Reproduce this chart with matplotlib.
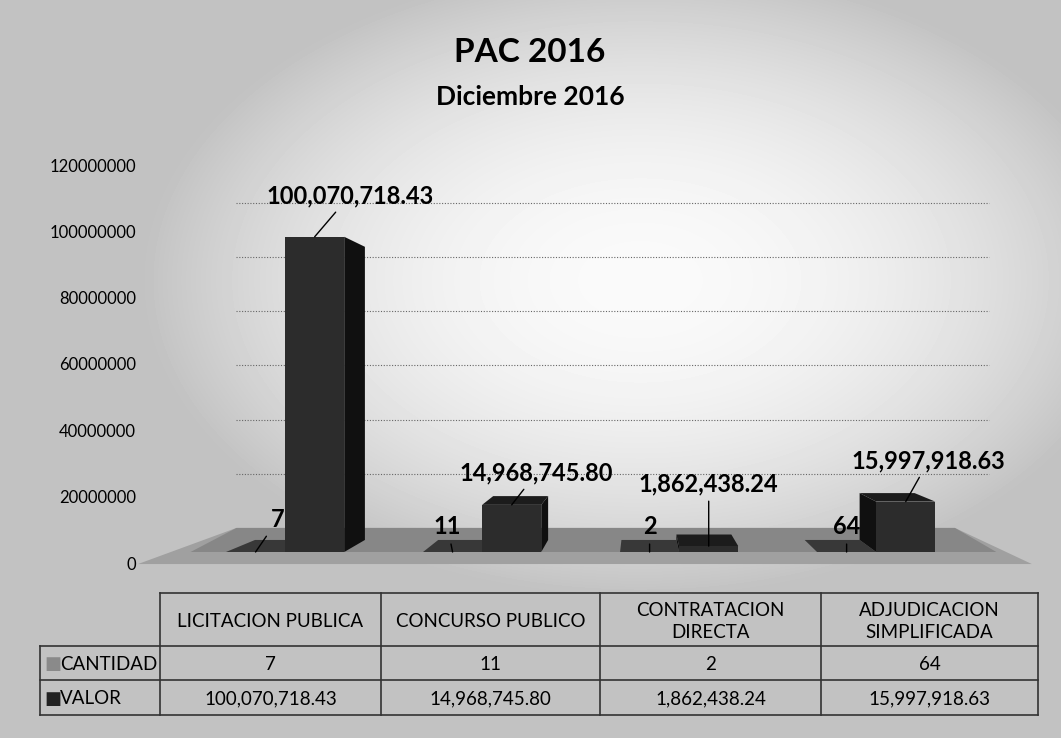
import matplotlib.pyplot as plt
import numpy as np
from matplotlib.patches import Polygon

# datos del grafico
categorias = ['LICITACION PUBLICA', 'CONCURSO PUBLICO', 'CONTRATACION\nDIRECTA', 'ADJUDICACION\nSIMPLIFICADA']
series = ['CANTIDAD', 'VALOR']
cantidad = [7, 11, 2, 64]
valor = [100070718.43, 14968745.80, 1862438.24, 15997918.63]
yticks = [0, 20000000, 40000000, 60000000, 80000000, 100000000, 120000000]

W, H = 1061, 738
FONT = ['Lato', 'DejaVu Sans']
plt.rcParams['font.family'] = FONT


def box(x0, y0, x1, y1):
    # pixel box -> figure fraction
    return [x0 / W, 1 - y1 / H, (x1 - x0) / W, (y1 - y0) / H]


fig = plt.figure(figsize=(W / 100, H / 100), dpi=100)

# fondo (gris con centro claro, como el escaneo)
bg = fig.add_axes([0, 0, 1, 1])
yy, xx = np.mgrid[0:H, 0:W]
r = np.sqrt(((xx - 640) / 520.0) ** 2 + ((yy - 280) / 330.0) ** 2)
shade = np.clip(0.98 - 0.24 * r ** 2, 0.76, 0.98)
bg.imshow(shade, cmap='gray', vmin=0, vmax=1, extent=[0, W, H, 0], aspect='auto')
bg.set_xlim(0, W)
bg.set_ylim(H, 0)
bg.axis('off')

bg.text(530, 52, 'PAC 2016', ha='center', va='center', fontsize=24, fontweight='bold')
bg.text(530, 97, 'Diciembre 2016', ha='center', va='center', fontsize=19, fontweight='bold')

# eje de etiquetas (pared frontal)
axl = fig.add_axes(box(140, 165, 160, 563))
axl.set_ylim(0, 120e6)
axl.set_yticks(yticks)
axl.set_yticklabels([str(v) for v in yticks], fontsize=12)
axl.set_xticks([])
axl.tick_params(axis='y', length=0, pad=3)
for s in axl.spines.values():
    s.set_visible(False)
axl.patch.set_alpha(0)

# eje de barras
ax = fig.add_axes(box(160, 174, 1020, 552))
ax.set_xlim(-0.635, 3.73)
ax.set_ylim(0, 120e6)
ax.axis('off')
ax.patch.set_alpha(0)

VP = (1.80, 54.6e6)   # punto de fuga
F = 0.07              # profundidad de barra
WALL = 0.14           # profundidad de la pared


def back(px_, py_, t=F):
    return (px_ + t * (VP[0] - px_), py_ + t * (VP[1] - py_))


def poly(pts, color, z):
    ax.add_patch(Polygon(pts, closed=True, facecolor=color, edgecolor='none', zorder=z, clip_on=False))


# piso
fl, fr = -0.58, 3.66
poly([back(fl, 0, -0.07), back(fr, 0, -0.07), back(fr, 0, WALL), back(fl, 0, WALL)], '#a0a0a0', 1)
poly([back(fl + 0.1, 0, 0.0), back(fr - 0.05, 0, 0.0), back(fr, 0, WALL), back(fl, 0, WALL)], '#878787', 1.1)

# lineas de division en la pared del fondo
for g in yticks[1:]:
    p0 = back(fl, g, WALL)
    p1 = back(fr + 0.2, g, WALL)
    ax.plot([p0[0], p1[0]], [p0[1], p1[1]], color='#666666', lw=0.8,
            linestyle=(0, (1, 1.5)), zorder=0.5, clip_on=False)

x = np.arange(len(categorias))
w = 0.30


def caja(x0, x1, h, c_side, c_top):
    if VP[0] > x1:
        poly([(x1, 0), (x1, h), back(x1, h), back(x1, 0)], c_side, 3)
    elif VP[0] < x0:
        poly([(x0, 0), (x0, h), back(x0, h), back(x0, 0)], c_side, 3)
    if VP[1] > h:
        poly([(x0, h), (x1, h), back(x1, h), back(x0, h)], c_top, 3)


for i in x:
    caja(i - w, i, cantidad[i], '#1a1a1a', '#383838')
ax.bar(x - w / 2, cantidad, w, color='#333333', zorder=4)
for i in x:
    caja(i, i + w, valor[i], '#101010', '#1c1c1c')
ax.bar(x + w / 2, valor, w, color='#2c2c2c', zorder=4)

# etiquetas de datos
off_valor = [(35, -41), (25, -32), (0, -62), (23, -41)]
off_cant = [(22, -32), (-5, -25), (0, -25), (0, -25)]
for i in x:
    ax.annotate(f'{valor[i]:,.2f}', (i + w / 2, valor[i]),
                xytext=(off_valor[i][0] * 0.72, -off_valor[i][1] * 0.72), textcoords='offset points',
                ha='center', va='center', fontsize=17, fontweight='bold', zorder=6,
                arrowprops=dict(arrowstyle='-', color='black', lw=1, shrinkA=2, shrinkB=0))
    ax.annotate(str(cantidad[i]), (i - w / 2, cantidad[i]),
                xytext=(off_cant[i][0] * 0.72, -off_cant[i][1] * 0.72), textcoords='offset points',
                ha='center', va='center', fontsize=17, fontweight='bold', zorder=6,
                arrowprops=dict(arrowstyle='-', color='black', lw=1, shrinkA=2, shrinkB=0))

# tabla de datos
col_x = [40, 160, 381, 600, 821, 1038]
row_y = [593, 646, 680, 715]
lc = '#333333'
bg.plot([col_x[1], col_x[-1]], [row_y[0], row_y[0]], color=lc, lw=1.2)
for yv in row_y[1:]:
    bg.plot([col_x[0], col_x[-1]], [yv, yv], color=lc, lw=1.2)
for k, xv in enumerate(col_x):
    y0 = row_y[0] if k > 0 else row_y[1]
    bg.plot([xv, xv], [y0, row_y[-1]], color=lc, lw=1.2)

for j, cat in enumerate(categorias):
    cx = (col_x[j + 1] + col_x[j + 2]) / 2
    bg.text(cx, (row_y[0] + row_y[1]) / 2 + 2, cat, ha='center', va='center', fontsize=13.5, linespacing=1.3)
    bg.text(cx, (row_y[1] + row_y[2]) / 2 + 1, str(cantidad[j]), ha='center', va='center', fontsize=13.5)
    bg.text(cx, (row_y[2] + row_y[3]) / 2 + 1, f'{valor[j]:,.2f}', ha='center', va='center', fontsize=13.5)

marker_cols = ['#8a8a8a', '#222222']
for k, s in enumerate(series):
    yc = (row_y[k + 1] + row_y[k + 2]) / 2 + 1
    bg.text(col_x[0] + 4, yc, '\u25a0', ha='left', va='center', fontsize=13, color=marker_cols[k],
            family=['DejaVu Sans'])
    bg.text(col_x[0] + 20, yc, s, ha='left', va='center', fontsize=13.5)

fig.savefig('out.png', dpi=100)
